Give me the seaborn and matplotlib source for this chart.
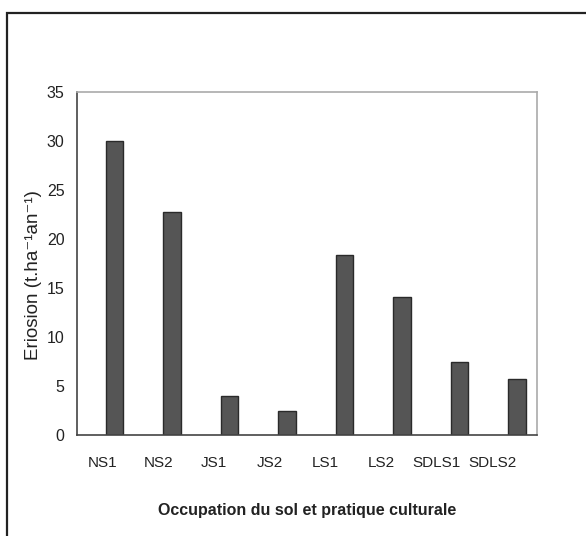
import numpy as np
import pandas as pd
import matplotlib
matplotlib.use("Agg")
import matplotlib.pyplot as plt
import seaborn as sns
from matplotlib.patches import Rectangle

categories = ["NS1", "NS2", "JS1", "JS2", "LS1", "LS2", "SDLS1", "SDLS2"]
erosion = [30.0, 22.8, 4.0, 2.5, 18.4, 14.1, 7.5, 5.7]

df = pd.DataFrame({"Occupation": categories, "Erosion": erosion})

sns.set_style("white")
plt.rcParams["font.family"] = ["Liberation Sans", "DejaVu Sans"]

fig = plt.figure(figsize=(5.86, 5.36), dpi=100)
ax = fig.add_axes([77 / 586, 1 - 435 / 536, 460 / 586, 343 / 536])

sns.barplot(data=df, x="Occupation", y="Erosion", color="#555555",
            width=0.3, edgecolor="#2a2a2a", linewidth=1.0, saturation=1, ax=ax)

ax.set_xlim(-0.652, 7.348)
ax.set_ylim(0, 35)
ax.set_yticks(np.arange(0, 36, 5))
ax.set_yticklabels([str(v) for v in range(0, 36, 5)], fontsize=11.5, color="#222222")
ax.set_xticks(np.linspace(-0.2, 6.57, len(categories)))
ax.set_xticklabels(categories, fontsize=11, color="#222222")
ax.tick_params(axis="x", length=0, pad=15)
ax.tick_params(axis="y", length=2, pad=7, color="#555555")

for side in ["left", "bottom"]:
    ax.spines[side].set_color("#444444")
    ax.spines[side].set_linewidth(1.2)
for side in ["top", "right"]:
    ax.spines[side].set_visible(True)
    ax.spines[side].set_color("#aaaaaa")
    ax.spines[side].set_linewidth(1.2)

ax.set_xlabel("Occupation du sol et pratique culturale", fontsize=11.5,
              fontweight="bold", color="#222222")
ax.xaxis.set_label_coords(0.5, -(503 - 435) / 343)
ax.set_ylabel("Eriosion (t.ha⁻¹an⁻¹)", fontsize=13.5, color="#222222")
ax.yaxis.set_label_coords(-(77 - 42) / 460, (435 - 275) / 343)

# outer frame of the figure (cut at right and bottom)
frame = Rectangle((7 / 586, -0.05), 1.0, 1 - 13 / 536 + 0.05,
                  transform=fig.transFigure, fill=False,
                  edgecolor="#222222", linewidth=1.6)
fig.patches.append(frame)

fig.savefig("out.png", dpi=100)
